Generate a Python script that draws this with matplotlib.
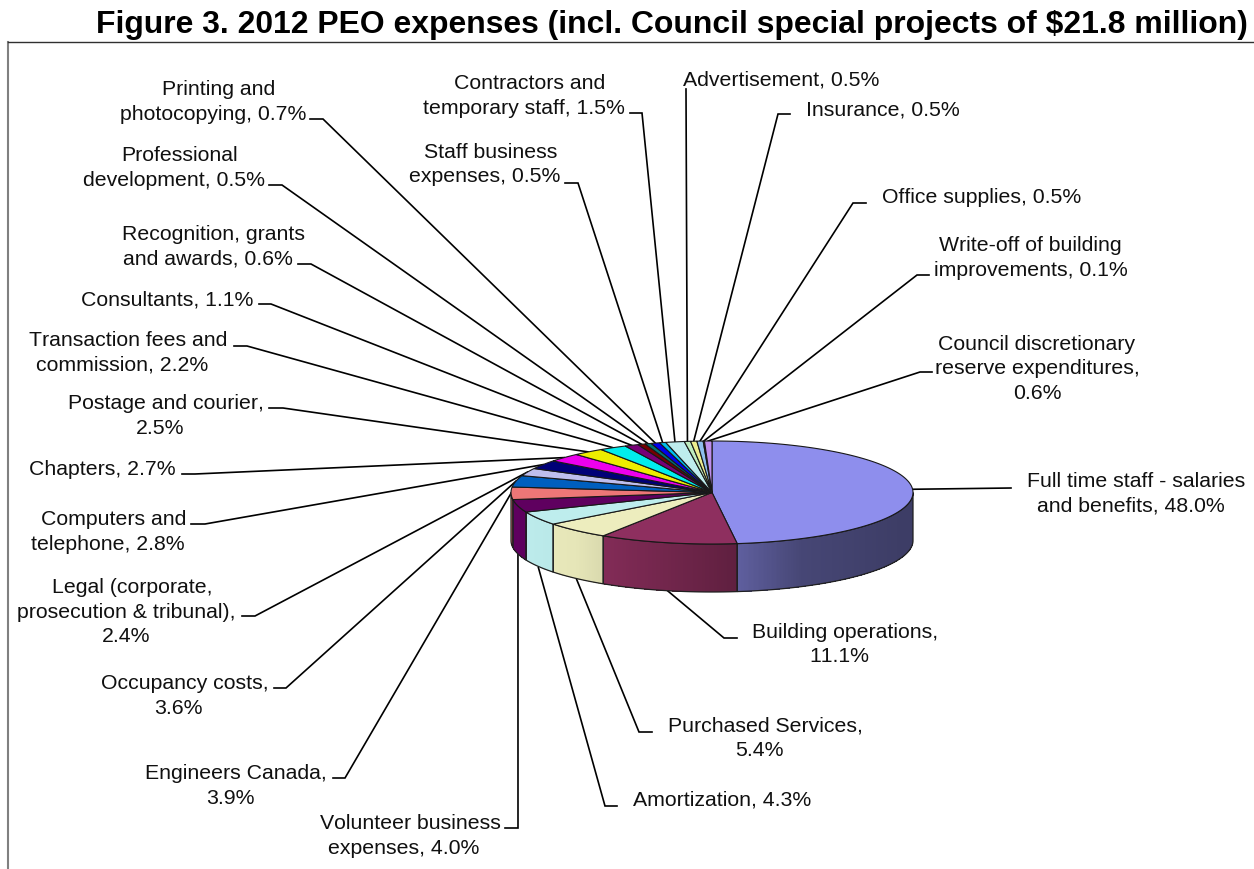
import numpy as np
import matplotlib
matplotlib.use('Agg')
import matplotlib.pyplot as plt

plt.rcParams['font.family'] = ['Liberation Sans', 'DejaVu Sans']
plt.rcParams['text.kerning_factor'] = 6

# Expense categories, clockwise from 12 o'clock
labels = ['Full time staff - salaries\nand benefits, 48.0%', 'Building operations,\n11.1%',
          'Purchased Services,\n5.4%', 'Amortization, 4.3%', 'Volunteer business\nexpenses, 4.0%',
          'Engineers Canada,\n3.9%', 'Occupancy costs,\n3.6%',
          'Legal (corporate,\nprosecution & tribunal),\n2.4%', 'Computers and\ntelephone, 2.8%',
          'Chapters, 2.7%', 'Postage and courier,\n2.5%', 'Transaction fees and\ncommission, 2.2%',
          'Consultants, 1.1%', 'Recognition, grants\nand awards, 0.6%', 'Professional\ndevelopment, 0.5%',
          'Printing and\nphotocopying, 0.7%', 'Staff business\nexpenses, 0.5%',
          'Contractors and\ntemporary staff, 1.5%', 'Advertisement, 0.5%', 'Insurance, 0.5%',
          'Office supplies, 0.5%', 'Write-off of building\nimprovements, 0.1%',
          'Council discretionary\nreserve expenditures,\n0.6%']
shares = [48.0, 11.1, 5.4, 4.3, 4.0, 3.9, 3.6, 2.4, 2.8, 2.7, 2.5, 2.2,
          1.1, 0.6, 0.5, 0.7, 0.5, 1.5, 0.5, 0.5, 0.5, 0.1, 0.6]
colors = ['#9999FF', '#993366', '#FFFFCC', '#CCFFFF', '#660066', '#FF8080', '#0066CC', '#CCCCFF',
          '#000080', '#FF00FF', '#FFFF00', '#00FFFF', '#800080', '#800000', '#008080', '#0000FF',
          '#00CCFF', '#CCFFFF', '#CCFFCC', '#FFFF99', '#99CCFF', '#FF99CC', '#CC99FF']

# First-line centre of each label, in pixels
label_x = [1136.5, 845.5, 765, 722.5, 410, 236, 184.5, 132, 114, 102, 166, 128, 167.5, 214, 180,
           219, 490.5, 529.6, 781, 883, 981.5, 1030.7, 1037]
label_y = [480, 631, 725, 799, 822, 772, 682, 586, 518, 468, 402, 339, 298, 233, 154, 88, 151, 82,
           78, 109, 196, 244, 343]
# Lines after the first sit a little to the left
line_dx = [-6] * 21 + [0, 0]

# Leader stub: outer end, elbow, height
stub_x0 = [1011, 737, 652, 617, 505, 333, 274, 242, 191, 182, 269, 234, 259, 298, 269, 310, 565, 630,
           686, 790, 866, 929, 932]
stub_x1 = [1011, 724, 639, 605, 518, 345, 286, 255, 205, 195, 283, 247, 271, 311, 282, 323, 578, 642,
           686, 778, 853, 917, 920]
stub_y = [488, 638, 732, 806, 828, 778, 688, 616, 524, 474, 408, 346, 304, 264, 185, 119, 183, 113,
          89, 114, 203, 275, 372]

cx, cy = 712, 492.5
rx, ry = 201, 51.5
depth = 48
line_gap = 24.5


def ellipse(t, dy=0.0):
    return cx + rx * np.sin(t), cy - ry * np.cos(t) + dy


# Side wall gets darker from left to right
def shade(x):
    return np.interp(x, [511, 575, 603, 737, 800, 900, 913], [0.93, 0.90, 0.85, 0.62, 0.46, 0.40, 0.40])


fig = plt.figure(figsize=(12.54, 8.69), dpi=100)
ax = fig.add_axes([0, 0, 1, 1])
ax.set_xlim(0, 1254)
ax.set_ylim(869, 0)
ax.axis('off')

edges = np.radians(np.concatenate([[0], np.cumsum(shares)]) * 3.6)

# Chart frame
ax.plot([8, 8], [869, 41.5], color='#808080', lw=1.5, zorder=1)
ax.plot([8, 1254], [41.5, 41.5], color='#303030', lw=1.0, zorder=1)

ax.text(671.5, 33, 'Figure 3. 2012 PEO expenses (incl. Council special projects of $21.8 million)',
        ha='center', va='baseline', fontsize=22.95, fontweight='bold', color='black')

# Leaders and labels
for i, lab in enumerate(labels):
    mid = (edges[i] + edges[i + 1]) / 2
    end_x, end_y = ellipse(mid, depth if np.cos(mid) < -0.05 else 0)
    ax.plot([stub_x0[i], stub_x1[i], end_x], [stub_y[i], stub_y[i], end_y],
            color='black', lw=1.2, zorder=2, solid_joinstyle='miter')
    for n, part in enumerate(lab.split('\n')):
        ax.text(label_x[i] + (line_dx[i] if n else 0), label_y[i] + 7 + n * line_gap, part,
                ha='center', va='baseline', fontsize=15.3, color='#101010', zorder=5)

# Side wall of the front half of the disc
for i, col in enumerate(colors):
    t0 = max(edges[i], np.pi / 2)
    t1 = min(edges[i + 1], 3 * np.pi / 2)
    if t1 <= t0:
        continue
    base = np.array(matplotlib.colors.to_rgb(col))
    ts = np.linspace(t0, t1, max(int((t1 - t0) * 120), 2))
    for k in range(len(ts) - 1):
        xa, ya = ellipse(ts[k])
        xb, yb = ellipse(ts[min(k + 2, len(ts) - 1)])
        c = base * shade((xa + xb) / 2)
        ax.fill([xa, xb, xb, xa], [ya, yb, yb + depth, ya + depth], facecolor=c, edgecolor='none',
                antialiased=False, zorder=3)
    tt = np.linspace(t0, t1, 80)
    xs, ys = ellipse(tt)
    ax.fill(np.r_[xs, xs[::-1]], np.r_[ys, ys[::-1] + depth], fill=False, edgecolor='#202020', lw=0.9, zorder=3.5)

# Top face
for i, col in enumerate(colors):
    tt = np.linspace(edges[i], edges[i + 1], 120)
    xs, ys = ellipse(tt)
    c = np.array(matplotlib.colors.to_rgb(col)) * 0.93
    ax.fill(np.r_[cx, xs], np.r_[cy, ys], facecolor=c, edgecolor='#181818', lw=0.8, zorder=4)

fig.savefig('out.png', dpi=100)
